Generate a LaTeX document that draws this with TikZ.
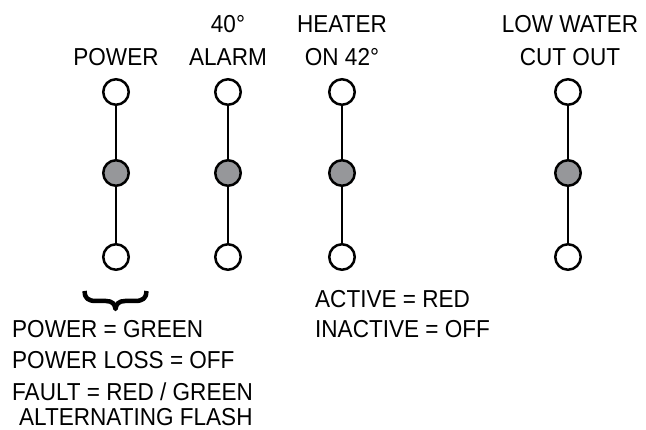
\documentclass[tikz,border=0pt]{standalone}
\usepackage{fontspec}
\setmainfont{Liberation Sans}[FakeStretch=0.92]
\usetikzlibrary{positioning}
\definecolor{ledgray}{RGB}{150,151,154}
\tikzset{
  led/.style={
    circle, draw, line width=2.5pt, fill=white,
    minimum size=25.5pt, inner sep=0pt
  },
  ledon/.style={led, fill=ledgray},
  wire/.style={line width=2.5pt},
  tag/.style={inner sep=0pt, align=center, font=\fontsize{24.5}{33}\selectfont},
  note/.style={inner sep=0pt, align=left, font=\fontsize{24.5}{31.5}\selectfont}
}

\begin{document}
\begin{tikzpicture}
      \useasboundingbox (0,0) rectangle (646pt,-430pt);

      \node [led] (PowerTop) at (116pt,-92pt) {};
      \node [ledon, on grid, below=81pt of PowerTop] (PowerMid) {};
      \node [led, on grid, below=84pt of PowerMid] (PowerBot) {};
      \draw [wire] (PowerTop) -- (PowerMid);
      \draw [wire] (PowerMid) -- (PowerBot);
      \node [tag, above=12pt of PowerTop] (PowerLbl) {POWER};

      \node [led, on grid, right=112pt of PowerTop] (AlarmTop) {};
      \node [ledon, on grid, below=81pt of AlarmTop] (AlarmMid) {};
      \node [led, on grid, below=84pt of AlarmMid] (AlarmBot) {};
      \draw [wire] (AlarmTop) -- (AlarmMid);
      \draw [wire] (AlarmMid) -- (AlarmBot);
      \node [tag, above=12pt of AlarmTop] (AlarmLbl) {40°\\ALARM};

      \node [led, on grid, right=114pt of AlarmTop] (HeaterTop) {};
      \node [ledon, on grid, below=81pt of HeaterTop] (HeaterMid) {};
      \node [led, on grid, below=84pt of HeaterMid] (HeaterBot) {};
      \draw [wire] (HeaterTop) -- (HeaterMid);
      \draw [wire] (HeaterMid) -- (HeaterBot);
      \node [tag, above=12pt of HeaterTop] (HeaterLbl) {HEATER\\ON 42°};

      \node [led, on grid, right=226pt of HeaterTop] (WaterTop) {};
      \node [ledon, on grid, below=81pt of WaterTop] (WaterMid) {};
      \node [led, on grid, below=84pt of WaterMid] (WaterBot) {};
      \draw [wire] (WaterTop) -- (WaterMid);
      \draw [wire] (WaterMid) -- (WaterBot);
      \node [tag, above=12pt of WaterTop, xshift=2pt] (WaterLbl) {LOW WATER\\CUT OUT};

      % brace under the power light
      \draw [line width=4.5pt, line join=round]
        (84.5pt,-291pt) .. controls (84.5pt,-298pt) and (88pt,-301pt) .. (96pt,-301pt)
        -- (106pt,-301pt) .. controls (112pt,-301pt) and (115pt,-304pt) .. (115.5pt,-309pt)
        .. controls (116pt,-304pt) and (119pt,-301pt) .. (125pt,-301pt)
        -- (135pt,-301pt) .. controls (143pt,-301pt) and (146.5pt,-298pt) .. (146.5pt,-291pt);
      \node [note, anchor=north west] (PowerNote) at (12pt,-320pt)
        {POWER = GREEN\\POWER LOSS = OFF\\FAULT = RED / GREEN\\[-6pt]\hspace*{7pt}ALTERNATING FLASH};

      \node [note, anchor=north west, font=\fontsize{24.5}{30}\selectfont] (HeaterNote) at (315pt,-290pt)
        {ACTIVE = RED\\INACTIVE = OFF};
    \end{tikzpicture}
\end{document}
